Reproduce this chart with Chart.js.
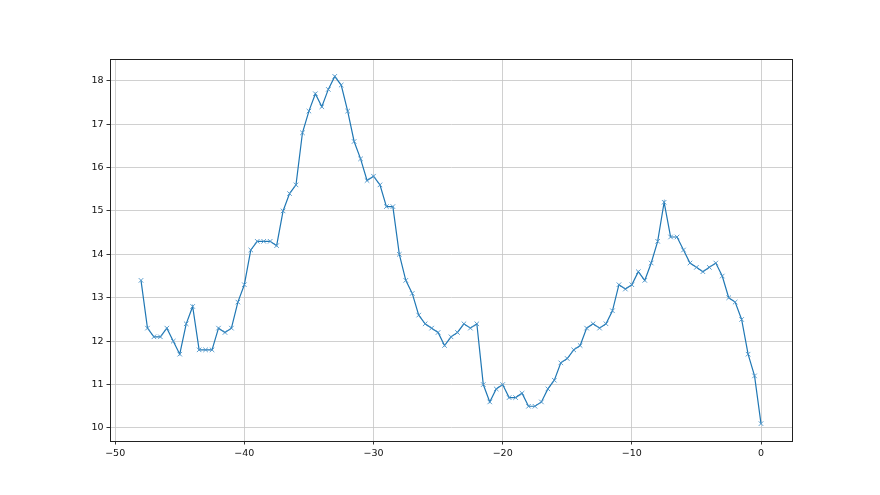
<!DOCTYPE html>
<html>
<head>
<meta charset="utf-8">
<script src="https://cdn.jsdelivr.net/npm/chart.js@4/dist/chart.umd.min.js"></script>
<style>
html,body{margin:0;padding:0;background:#fff;}
#c{display:block;}
</style>
</head>
<body>
<canvas id="c" width="880" height="495"></canvas>
<script>
const xValues = [-48,-47.5,-47,-46.5,-46,-45.5,-45,-44.5,-44,-43.5,-43,-42.5,-42,-41.5,-41,-40.5,-40,-39.5,-39,-38.5,-38,-37.5,-37,-36.5,-36,-35.5,-35,-34.5,-34,-33.5,-33,-32.5,-32,-31.5,-31,-30.5,-30,-29.5,-29,-28.5,-28,-27.5,-27,-26.5,-26,-25.5,-25,-24.5,-24,-23.5,-23,-22.5,-22,-21.5,-21,-20.5,-20,-19.5,-19,-18.5,-18,-17.5,-17,-16.5,-16,-15.5,-15,-14.5,-14,-13.5,-13,-12.5,-12,-11.5,-11,-10.5,-10,-9.5,-9,-8.5,-8,-7.5,-7,-6.5,-6,-5.5,-5,-4.5,-4,-3.5,-3,-2.5,-2,-1.5,-1,-0.5,0];
const yValues = [13.4,12.3,12.1,12.1,12.3,12.0,11.7,12.4,12.8,11.8,11.8,11.8,12.3,12.2,12.3,12.9,13.3,14.1,14.3,14.3,14.3,14.2,15.0,15.4,15.6,16.8,17.3,17.7,17.4,17.8,18.1,17.9,17.3,16.6,16.2,15.7,15.8,15.6,15.1,15.1,14.0,13.4,13.1,12.6,12.4,12.3,12.2,11.9,12.1,12.2,12.4,12.3,12.4,11.0,10.6,10.9,11.0,10.7,10.7,10.8,10.5,10.5,10.6,10.9,11.1,11.5,11.6,11.8,11.9,12.3,12.4,12.3,12.4,12.7,13.3,13.2,13.3,13.6,13.4,13.8,14.3,15.2,14.4,14.4,14.1,13.8,13.7,13.6,13.7,13.8,13.5,13.0,12.9,12.5,11.7,11.2,10.1];
const xTicks = [-50,-40,-30,-20,-10,0];
const yTicks = [10,11,12,13,14,15,16,17,18];

const points = xValues.map((x, i) => ({x: x, y: yValues[i]}));

const frame = {
  id: 'frame',
  afterDraw(chart) {
    const a = chart.chartArea, ctx = chart.ctx;
    ctx.save();
    ctx.strokeStyle = '#222';
    ctx.lineWidth = 1;
    ctx.strokeRect(Math.round(a.left) + 0.5, Math.round(a.top) + 0.5, Math.round(a.right - a.left), Math.round(a.bottom - a.top));
    ctx.restore();
  }
};

const fmt = v => String(v).replace('-', '\u2212');

new Chart(document.getElementById('c'), {
  type: 'line',
  data: {
    datasets: [{
      data: points,
      borderColor: '#1f77b4',
      backgroundColor: '#1f77b4',
      borderWidth: 1.2,
      tension: 0,
      fill: false,
      pointStyle: 'crossRot',
      pointRadius: 3.2,
      pointBorderWidth: 0.9,
      pointBorderColor: '#4a93c8',
      pointHoverRadius: 3.2
    }]
  },
  plugins: [frame],
  options: {
    responsive: false,
    animation: false,
    devicePixelRatio: 1,
    layout: { padding: { left: 0, right: 88, top: 59, bottom: 0 } },
    plugins: { legend: { display: false }, tooltip: { enabled: false } },
    scales: {
      x: {
        type: 'linear',
        min: -50.4,
        max: 2.4,
        afterBuildTicks: s => { s.ticks = xTicks.map(v => ({value: v})); },
        afterFit: s => { s.height = 54; },
        grid: { color: '#c4c4c4', lineWidth: 0.8, tickColor: '#000', tickLength: 3.5, drawTicks: true },
        border: { display: true, color: '#222', width: 1 },
        ticks: { color: '#111', font: { family: 'DejaVu Sans', size: 9.5 }, padding: 3, maxRotation: 0, callback: fmt }
      },
      y: {
        type: 'linear',
        min: 9.7,
        max: 18.5,
        afterBuildTicks: s => { s.ticks = yTicks.map(v => ({value: v})); },
        afterFit: s => { s.width = 110; },
        grid: { color: '#c4c4c4', lineWidth: 0.8, tickColor: '#000', tickLength: 3.5, drawTicks: true },
        border: { display: true, color: '#222', width: 1 },
        ticks: { color: '#111', font: { family: 'DejaVu Sans', size: 9.5 }, padding: 3, callback: fmt }
      }
    }
  }
});
</script>
</body>
</html>
